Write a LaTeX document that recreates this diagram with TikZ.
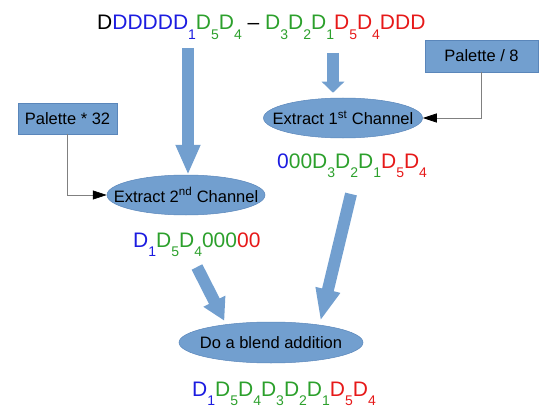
\documentclass[tikz,border=0pt]{standalone}
\usepackage{fontspec}
\setmainfont{Liberation Sans}
\usepackage{tikz}
\usetikzlibrary{arrows.meta,shapes.geometric,positioning}
\definecolor{fillblue}{HTML}{729FCF}
\definecolor{edgeblue}{HTML}{5A86BA}
\definecolor{bitblue}{HTML}{1C1CE0}
\definecolor{bitgreen}{HTML}{2CA02C}
\definecolor{bitred}{HTML}{E61919}
\newcommand{\lowsub}[1]{\raisebox{-9.5pt}{\fontsize{14}{14}\selectfont #1}}

\begin{document}
\begin{tikzpicture}[x=1pt,y=-1pt]
                \tikzstyle{every node}+=[inner sep=0pt]
                \tikzstyle{bits}=[anchor=base west,font=\fontsize{21}{21}\selectfont]
                \tikzstyle{palette}=[rectangle,fill=fillblue,draw=edgeblue,line width=0.5pt,font=\fontsize{16.5}{18}\selectfont]
                \tikzstyle{stage}=[ellipse,fill=fillblue,draw=edgeblue,line width=0.5pt,inner xsep=-20pt,font=\fontsize{16.5}{18}\selectfont]
                \tikzstyle{flow}=[line width=12pt,draw=fillblue,-{Triangle[length=30pt,width=23pt]}]
                \tikzstyle{feed}=[draw=gray,line width=0.7pt,-{Triangle[length=14pt,width=9pt,color=black]}]
                \useasboundingbox (0,0) rectangle (560,412);
                \node [bits] (src) at (97,30) {D\textcolor{bitblue}{DDDDD\lowsub{1}}\textcolor{bitgreen}{D\lowsub{5}D\lowsub{4}} -- \textcolor{bitgreen}{D\lowsub{3}D\lowsub{2}D\lowsub{1}}\textcolor{bitred}{D\lowsub{5}D\lowsub{4}DDD}};
                \node [palette,minimum width=99pt,minimum height=31pt] (mul) at (67.5,118.5) {Palette * 32};
                \node [palette,minimum width=113pt,minimum height=32pt] (div) at (481.5,56) {Palette / 8};
                \node [stage,minimum width=159pt,minimum height=40pt] (ext1) at (343,118) {Extract 1\textsuperscript{st} Channel};
                \node [stage,minimum width=158pt,minimum height=40pt] (ext2) at (186,195) {Extract 2\textsuperscript{nd} Channel};
                \node [bits] (lo) at (277,168) {\textcolor{bitblue}{0}\textcolor{bitgreen}{00D\lowsub{3}D\lowsub{2}D\lowsub{1}}\textcolor{bitred}{D\lowsub{5}D\lowsub{4}}};
                \node [bits] (hi) at (133,247) {\textcolor{bitblue}{D\lowsub{1}}\textcolor{bitgreen}{D\lowsub{5}D\lowsub{4}000}\textcolor{bitred}{00}};
                \node [stage,minimum width=184pt,minimum height=41pt] (blend) at (271,342.5) {Do a blend addition};
                \node [bits] (sum) at (192,396) {\textcolor{bitblue}{D\lowsub{1}}\textcolor{bitgreen}{D\lowsub{5}D\lowsub{4}D\lowsub{3}D\lowsub{2}D\lowsub{1}}\textcolor{bitred}{D\lowsub{5}D\lowsub{4}}};
                \coordinate (t1) at (188,48);
                \coordinate (t2) at (333,53);
                \coordinate (t3) at (197,267);
                \coordinate (t4) at (351,194);
                \draw [feed] (mul.south) |- (ext2.west);
                \draw [feed] (div.south) |- (ext1.east);
                \draw [flow] (t1) -- (t1 |- ext2.north);
                \draw [flow,-{Triangle[length=11pt,width=22pt]},shorten >=5pt] (t2) -- (t2 |- ext1.north);
                \draw [flow,-{Triangle[length=22pt,width=23pt]},shorten >=4pt] (t3) -- (blend.158);
                \draw [flow,-{Triangle[length=32pt,width=23pt]},shorten >=4pt] (t4) -- (blend.20);
\end{tikzpicture}
\end{document}
